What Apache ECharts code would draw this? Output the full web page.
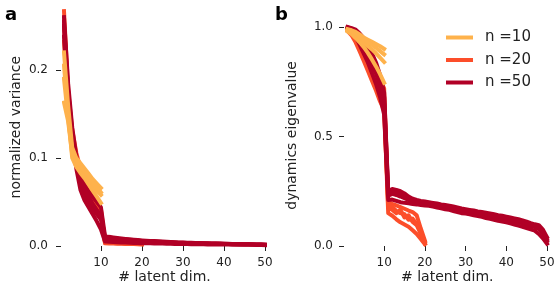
<!DOCTYPE html>
<html>
<head>
<meta charset="utf-8">
<script src="https://cdn.jsdelivr.net/npm/echarts@6/dist/echarts.min.js"></script>
<style>html,body{margin:0;padding:0;background:#fff}#c{width:556px;height:284px}</style>
</head>
<body>
<div id="c"></div>
<script>
// ---------- data ----------
const seriesLabels = ['n =10', 'n =20', 'n =50'];
const xTicks = [10, 20, 30, 40, 50];
const yTicksA = [0, 0.1, 0.2];
const yTicksB = [0, 0.5, 1.0];

// panel a: normalized variance per latent dim (several runs per n)
const varN10 = [
  [0.220,0.160,0.112,0.100,0.094,0.088,0.082,0.076,0.071,0.066],
  [0.163,0.142,0.104,0.094,0.088,0.082,0.076,0.069,0.063,0.058],
  [0.205,0.150,0.100,0.090,0.083,0.077,0.070,0.063,0.056,0.049],
  [0.190,0.145,0.108,0.097,0.091,0.085,0.079,0.073,0.067,0.061]
];
const varN20 = [
  [0.267,0.178,0.132,0.106,0.088,0.076,0.066,0.058,0.050,0.042,
   0.0045,0.0042,0.0040,0.0038,0.0036,0.0034,0.0032,0.0030,0.0028,0.0024],
  [0.232,0.165,0.122,0.098,0.080,0.070,0.061,0.053,0.046,0.036,
   0.0030,0.0028,0.0027,0.0026,0.0025,0.0024,0.0023,0.0022,0.0020,0.0018],
  [0.250,0.172,0.127,0.102,0.085,0.074,0.064,0.056,0.048,0.040,
   0.0038,0.0035,0.0033,0.0032,0.0030,0.0029,0.0027,0.0026,0.0024,0.0021]
];
const varN50 = [
  [0.260,0.185,0.135,0.102,0.080,0.070,0.062,0.056,0.050,0.044,
   0.0112,0.0104,0.0098,0.0092,0.0086,0.0081,0.0077,0.0072,0.0068,0.0064,
   0.0061,0.0058,0.0056,0.0053,0.0051,0.0048,0.0046,0.0043,0.0041,0.0039,
   0.0037,0.0036,0.0034,0.0033,0.0031,0.0030,0.0029,0.0028,0.0027,0.0026,
   0.0025,0.0024,0.0023,0.0022,0.0021,0.0020,0.0019,0.0018,0.0017,0.0015],
  [0.250,0.175,0.128,0.094,0.070,0.059,0.051,0.043,0.036,0.030,
   0.0085,0.0080,0.0076,0.0071,0.0068,0.0064,0.0060,0.0057,0.0054,0.0051,
   0.0049,0.0047,0.0045,0.0043,0.0041,0.0039,0.0038,0.0036,0.0035,0.0033,
   0.0032,0.0031,0.0030,0.0029,0.0028,0.0027,0.0026,0.0025,0.0025,0.0024,
   0.0023,0.0022,0.0021,0.0021,0.0020,0.0019,0.0018,0.0017,0.0016,0.0014],
  [0.238,0.168,0.122,0.088,0.064,0.052,0.044,0.036,0.028,0.019,
   0.0050,0.0047,0.0045,0.0043,0.0041,0.0039,0.0037,0.0035,0.0034,0.0032,
   0.0031,0.0030,0.0029,0.0028,0.0027,0.0026,0.0025,0.0024,0.0023,0.0022,
   0.0022,0.0021,0.0020,0.0020,0.0019,0.0018,0.0018,0.0017,0.0017,0.0016,
   0.0016,0.0015,0.0015,0.0014,0.0014,0.0013,0.0013,0.0012,0.0011,0.0010],
  [0.255,0.172,0.120,0.092,0.074,0.064,0.056,0.048,0.041,0.034,
   0.0098,0.0092,0.0087,0.0082,0.0077,0.0073,0.0069,0.0065,0.0062,0.0058,
   0.0055,0.0053,0.0050,0.0048,0.0046,0.0044,0.0042,0.0040,0.0038,0.0036,
   0.0035,0.0033,0.0032,0.0031,0.0030,0.0029,0.0028,0.0027,0.0026,0.0025,
   0.0024,0.0023,0.0022,0.0021,0.0020,0.0019,0.0018,0.0017,0.0016,0.0013]
];

// panel b: dynamics eigenvalue per latent dim
const eigN10 = [
  [0.990,0.985,0.978,0.966,0.952,0.942,0.932,0.922,0.912,0.900],
  [0.985,0.975,0.962,0.946,0.930,0.912,0.898,0.880,0.860,0.840],
  [0.980,0.968,0.950,0.930,0.908,0.882,0.852,0.820,0.785,0.745],
  [0.988,0.980,0.970,0.956,0.944,0.930,0.918,0.905,0.890,0.875]
];
const eigN20 = [
  [0.990,0.982,0.965,0.940,0.905,0.875,0.840,0.800,0.760,0.720,
   0.200,0.192,0.185,0.178,0.170,0.162,0.155,0.140,0.080,0.025],
  [0.985,0.970,0.945,0.905,0.865,0.825,0.785,0.745,0.690,0.635,
   0.150,0.138,0.122,0.108,0.098,0.088,0.072,0.055,0.032,0.008],
  [0.988,0.976,0.955,0.925,0.885,0.850,0.810,0.770,0.725,0.680,
   0.175,0.165,0.150,0.165,0.130,0.140,0.110,0.095,0.055,0.018],
  [0.982,0.962,0.930,0.888,0.845,0.800,0.755,0.710,0.660,0.620,
   0.190,0.178,0.160,0.150,0.145,0.120,0.125,0.100,0.065,0.012]
];
const eigN50 = [
  [1.000,0.995,0.988,0.970,0.948,0.918,0.880,0.838,0.780,0.700,
   0.250,0.260,0.256,0.250,0.240,0.226,0.216,0.210,0.206,0.203,
   0.200,0.197,0.194,0.190,0.187,0.184,0.180,0.176,0.171,0.168,
   0.165,0.162,0.158,0.155,0.152,0.149,0.145,0.141,0.138,0.134,
   0.130,0.126,0.122,0.117,0.111,0.104,0.099,0.095,0.075,0.040],
  [0.995,0.988,0.970,0.940,0.902,0.868,0.828,0.788,0.730,0.650,
   0.230,0.238,0.233,0.226,0.218,0.210,0.204,0.200,0.196,0.194,
   0.191,0.188,0.185,0.181,0.177,0.174,0.170,0.166,0.161,0.158,
   0.155,0.151,0.148,0.144,0.140,0.137,0.133,0.129,0.125,0.121,
   0.117,0.113,0.108,0.103,0.097,0.091,0.086,0.078,0.058,0.022],
  [0.990,0.980,0.958,0.918,0.878,0.838,0.790,0.740,0.680,0.600,
   0.210,0.212,0.206,0.200,0.197,0.195,0.192,0.190,0.187,0.185,
   0.184,0.180,0.176,0.172,0.168,0.165,0.160,0.155,0.150,0.148,
   0.145,0.140,0.137,0.133,0.128,0.124,0.120,0.115,0.112,0.108,
   0.103,0.098,0.093,0.088,0.082,0.076,0.070,0.055,0.035,0.010],
  [0.998,0.992,0.980,0.955,0.925,0.895,0.858,0.815,0.760,0.680,
   0.240,0.248,0.244,0.238,0.229,0.218,0.210,0.205,0.201,0.198,
   0.196,0.193,0.190,0.186,0.182,0.179,0.175,0.171,0.166,0.163,
   0.160,0.157,0.153,0.150,0.146,0.143,0.139,0.135,0.131,0.127,
   0.123,0.119,0.115,0.110,0.104,0.098,0.093,0.087,0.066,0.030]
];

// ---------- chart ----------
const colors = ['#feb24c', '#fc4e2a', '#b10026'];
const drawOrder = [1, 2, 0]; // n=20, n=50, then n=10 on top
const textColor = '#222';
const font = 'DejaVu Sans';

const chart = echarts.init(document.getElementById('c'), null, {renderer: 'canvas'});

function makeSeries(groups, axisIndex) {
  const out = [];
  drawOrder.forEach(g => {
    groups[g].forEach(run => {
      out.push({
        type: 'line',
        name: seriesLabels[g],
        xAxisIndex: axisIndex,
        yAxisIndex: axisIndex,
        data: run.map((v, i) => [i + 1, v]),
        showSymbol: false,
        symbol: 'none',
        clip: false,
        silent: true,
        animation: false,
        lineStyle: {color: colors[g], width: 4, cap: 'square', join: 'round'},
        itemStyle: {color: colors[g]}
      });
    });
  });
  return out;
}

const series = [].concat(
  makeSeries([varN10, varN20, varN50], 0),
  makeSeries([eigN10, eigN20, eigN50], 1)
);

function xAxis(gi) {
  return {
    type: 'value', gridIndex: gi, min: 1, max: 50,
    axisLine: {show: false},
    splitLine: {show: false},
    axisTick: {show: true, customValues: xTicks, length: 5, lineStyle: {color: textColor, width: 1}},
    axisLabel: {customValues: xTicks, color: textColor, fontFamily: font, fontSize: 12, margin: 11},
    name: '# latent dim.', nameLocation: 'middle', nameGap: 24, nameMoveOverlap: false,
    nameTextStyle: {color: textColor, fontFamily: font, fontSize: 14}
  };
}

const option = {
  animation: false,
  backgroundColor: '#fff',
  title: [
    {text: 'a', left: 0, top: 1, textStyle: {fontFamily: font, fontSize: 18, fontWeight: 'bold', color: '#000'}},
    {text: 'b', left: 270, top: 1, textStyle: {fontFamily: font, fontSize: 18, fontWeight: 'bold', color: '#000'}}
  ],
  legend: {
    data: seriesLabels,
    orient: 'vertical',
    left: 441, top: 25,
    icon: 'rect',
    itemWidth: 27, itemHeight: 4,
    itemGap: 7.5,
    selectedMode: false,
    textStyle: {fontFamily: font, fontSize: 15, color: textColor, padding: [0, 0, 0, 7], lineHeight: 15}
  },
  grid: [
    {left: 64, width: 201, top: 8.4, bottom: 38, outerBoundsMode: 'none', containLabel: false},
    {left: 347.5, width: 199.5, top: 24.8, bottom: 38, outerBoundsMode: 'none', containLabel: false}
  ],
  xAxis: [xAxis(0), xAxis(1)],
  yAxis: [
    {
      type: 'value', gridIndex: 0, min: 0, max: 0.27, offset: 3,
      axisLine: {show: false}, splitLine: {show: false},
      axisTick: {show: true, customValues: yTicksA, length: 5, lineStyle: {color: textColor}},
      axisLabel: {customValues: yTicksA, formatter: v => v.toFixed(1), color: textColor, fontFamily: font, fontSize: 12, margin: 13},
      name: 'normalized variance', nameLocation: 'middle', nameGap: 38, nameMoveOverlap: false,
      nameTextStyle: {color: textColor, fontFamily: font, fontSize: 14}
    },
    {
      type: 'value', gridIndex: 1, min: 0, max: 1.01, offset: 3.5,
      axisLine: {show: false}, splitLine: {show: false},
      axisTick: {show: true, customValues: yTicksB, length: 5, lineStyle: {color: textColor}},
      axisLabel: {customValues: yTicksB, formatter: v => v.toFixed(1), color: textColor, fontFamily: font, fontSize: 12, margin: 11},
      name: 'dynamics eigenvalue', nameLocation: 'middle', nameGap: 45, nameMoveOverlap: false,
      nameTextStyle: {color: textColor, fontFamily: font, fontSize: 14}
    }
  ],
  series: series
};
chart.setOption(option);
</script>
</body>
</html>
